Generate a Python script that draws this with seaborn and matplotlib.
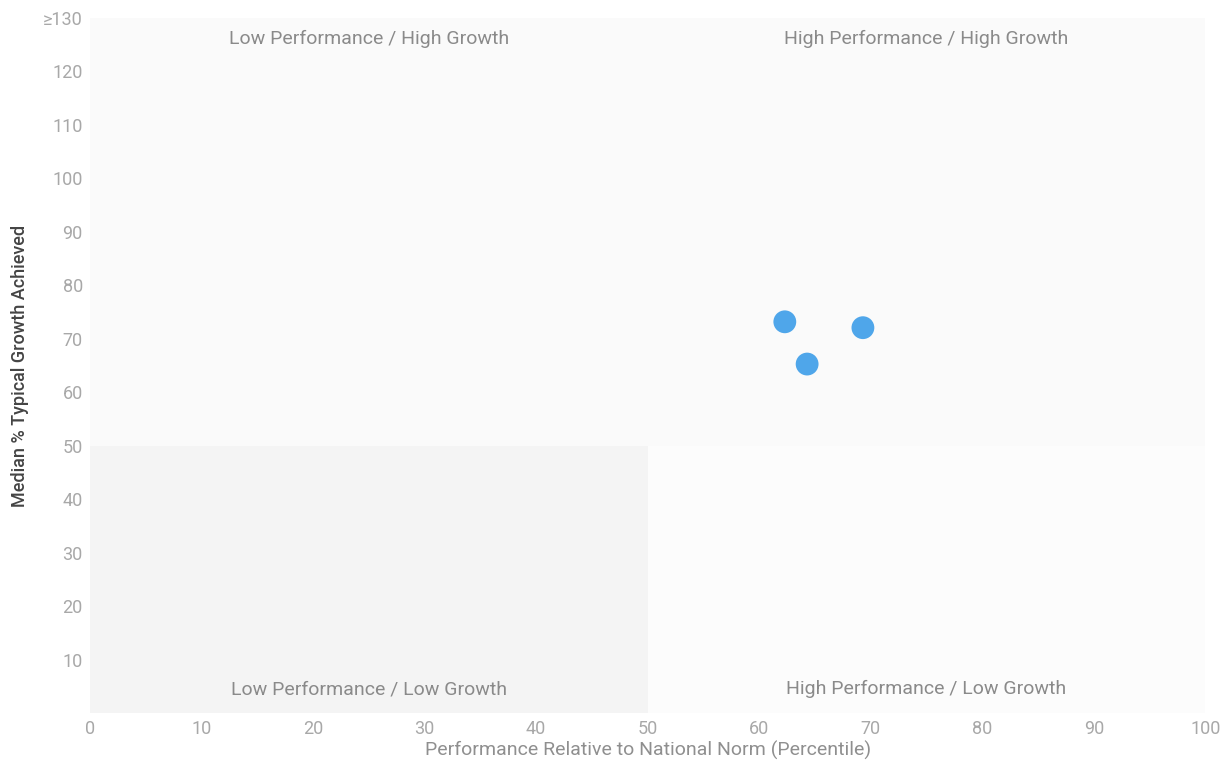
import matplotlib.pyplot as plt
import matplotlib.patches as mpatches
import pandas as pd
import seaborn as sns

# data
percentile = [62.3, 64.3, 69.3]
growth = [73.2, 65.3, 72.1]
x_ticks = [0, 10, 20, 30, 40, 50, 60, 70, 80, 90, 100]
y_ticks = [10, 20, 30, 40, 50, 60, 70, 80, 90, 100, 110, 120, 130]
y_tick_labels = ['10', '20', '30', '40', '50', '60', '70', '80', '90', '100', '110', '120', '\u2265130']
quadrants = ['Low Performance / High Growth', 'High Performance / High Growth',
             'Low Performance / Low Growth', 'High Performance / Low Growth']

df = pd.DataFrame({'percentile': percentile, 'growth': growth})

sns.set_style('white')
plt.rcParams['font.family'] = ['Roboto', 'DejaVu Sans']

fig = plt.figure(figsize=(12.3, 7.83), dpi=100)
ax = fig.add_axes([0.073, 0.089, 0.907, 0.888])

# quadrant shading
ax.add_patch(mpatches.Rectangle((0, 50), 100, 80, color='#fafafa', zorder=0, lw=0))
ax.add_patch(mpatches.Rectangle((0, 0), 50, 50, color='#f4f4f4', zorder=0, lw=0))
ax.add_patch(mpatches.Rectangle((50, 0), 50, 50, color='#fcfcfc', zorder=0, lw=0))

sns.scatterplot(data=df, x='percentile', y='growth', ax=ax, s=270,
                color='#4fa6ea', edgecolor='none', zorder=3)

ax.set_xlim(0, 100)
ax.set_ylim(0, 130)
ax.set_xticks(x_ticks)
ax.set_yticks(y_ticks)
ax.set_yticklabels(y_tick_labels)
ax.tick_params(colors='#a8a8a8', labelsize=13, length=0)
ax.tick_params(axis='y', pad=5)
ax.tick_params(axis='x', pad=5)
for s in ax.spines.values():
    s.set_visible(False)

qc = '#8a8a8a'
ax.text(25, 126, quadrants[0], ha='center', va='center', fontsize=14, color=qc)
ax.text(75, 126, quadrants[1], ha='center', va='center', fontsize=14, color=qc)
ax.text(25, 4.5, quadrants[2], ha='center', va='center', fontsize=14, color=qc)
ax.text(75, 4.5, quadrants[3], ha='center', va='center', fontsize=14, color=qc)

ax.set_xlabel('Performance Relative to National Norm (Percentile)', color='#8f8f8f',
              fontsize=14, labelpad=2)
ax.set_ylabel('Median % Typical Growth Achieved', color='#444444', fontsize=13,
              fontweight='medium', labelpad=10)

fig.savefig('out.png', dpi=100, facecolor='white')
